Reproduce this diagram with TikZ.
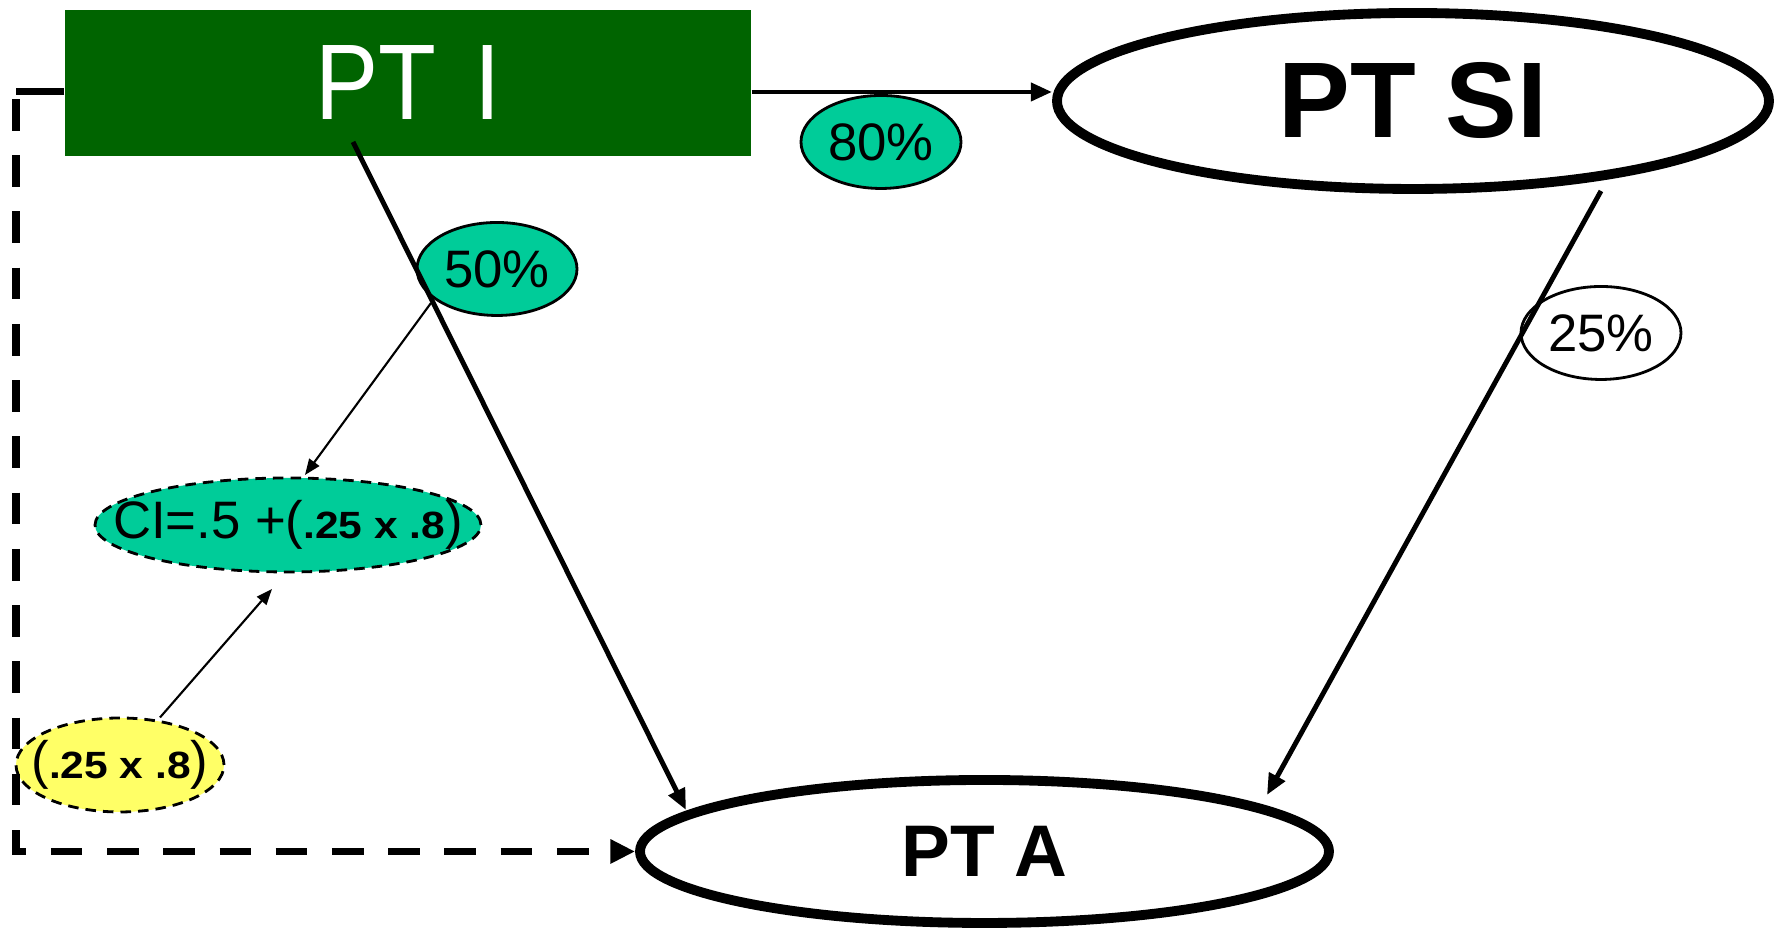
\documentclass[tikz,border=0pt]{standalone}
\usepackage{fontspec}
\usepackage{tikz}
\usetikzlibrary{shapes.geometric,arrows.meta}

\setmainfont{Liberation Sans}
\newfontfamily\thinfont[FakeStretch=0.88]{Liberation Sans}
\newfontfamily\widefont[FakeStretch=1.12]{Liberation Sans}

\definecolor{ptgreen}{RGB}{0,100,0}
\definecolor{mint}{RGB}{0,204,153}
\definecolor{lemon}{RGB}{255,255,102}

% bold factor inside the small ellipses
\newcommand{\bfnum}[1]{{\widefont\bfseries\fontsize{10.8}{13}\selectfont #1}}

\tikzset{
  stage/.style={ellipse, draw, line width=2.8pt, fill=white, inner sep=0pt},
  rate/.style={ellipse, draw, line width=0.8pt, fill=mint, inner sep=0pt,
    minimum width=1.6cm, minimum height=0.93cm,
    font={\fontsize{15}{18}\selectfont}},
  note/.style={ellipse, draw, line width=0.8pt, dash pattern=on 3pt off 2pt,
    inner sep=0pt, minimum height=0.94cm},
  flow/.style={-{Triangle[length=6pt,width=5pt]}, line width=1.4pt},
  hint/.style={-{Triangle[length=4.5pt,width=3.5pt]}, line width=0.6pt},
  backflow/.style={-{Triangle[length=7pt,width=6.5pt]}, line width=2pt,
    dash pattern=on 9pt off 7pt, dash phase=-2pt},
}

\begin{document}
\begin{tikzpicture}

	\useasboundingbox (0,0) rectangle (17.8,9.28);

	\node (PTI)[fill=ptgreen, minimum width=6.86cm, minimum height=1.46cm, text=white,
	  font={\thinfont\fontsize{30.6}{36}\selectfont}] at (4.08,8.45) {PT\hspace{11pt}I};
	\node (PTSI)[stage, minimum width=7.12cm, minimum height=1.76cm,
	  font={\bfseries\fontsize{30.6}{36}\selectfont}] at (14.13,8.27) {PT SI};
	\node (PTA)[stage, minimum width=6.89cm, minimum height=1.43cm,
	  font={\bfseries\fontsize{20.8}{25}\selectfont}] at (9.845,0.765) {PT A};

	\node (p80)[rate] at (8.81,7.86) {80\%};
	\node (p50)[rate] at (4.97,6.59) {50\%};
	\node (p25)[rate, fill=white] at (16.01,5.95) {25\%};

	\node (CI)[note, fill=mint, minimum width=3.86cm] at (2.88,4.03) {};
	\node (CItext)[font={\fontsize{15}{18}\selectfont}] at (CI) {CI=.5 +(\bfnum{.25 x .8})};
	\node (fac)[note, fill=lemon, minimum width=2.08cm] at (1.20,1.63) {};
	\node (factext)[font={\fontsize{15}{18}\selectfont}] at (fac) {(\bfnum{.25 x .8})};

	\coordinate (lc) at (0.16,8.36);

	\draw [line width=2pt] ([yshift=-0.09cm]PTI.west) -- (lc);
	\draw [backflow] (lc) |- (PTA.west);

	\draw [flow] ([yshift=-0.09cm]PTI.east) -- ([yshift=-0.09cm]PTI.east -| PTSI.west);
	\draw [flow] ([xshift=-0.55cm,yshift=-0.59cm]PTI.center) -- ([xshift=-2.985cm,yshift=0.415cm]PTA.center);
	\draw [flow] ([xshift=1.88cm,yshift=-0.90cm]PTSI.center) -- ([xshift=2.825cm,yshift=0.565cm]PTA.center);

	\draw [hint] ([xshift=-0.66cm,yshift=-0.34cm]p50.center) -- ([xshift=0.17cm,yshift=0.5cm]CI.center);
	\draw [hint] ([xshift=0.40cm,yshift=0.475cm]fac.center) -- ([xshift=-0.16cm,yshift=-0.64cm]CI.center);

\end{tikzpicture}
\end{document}
